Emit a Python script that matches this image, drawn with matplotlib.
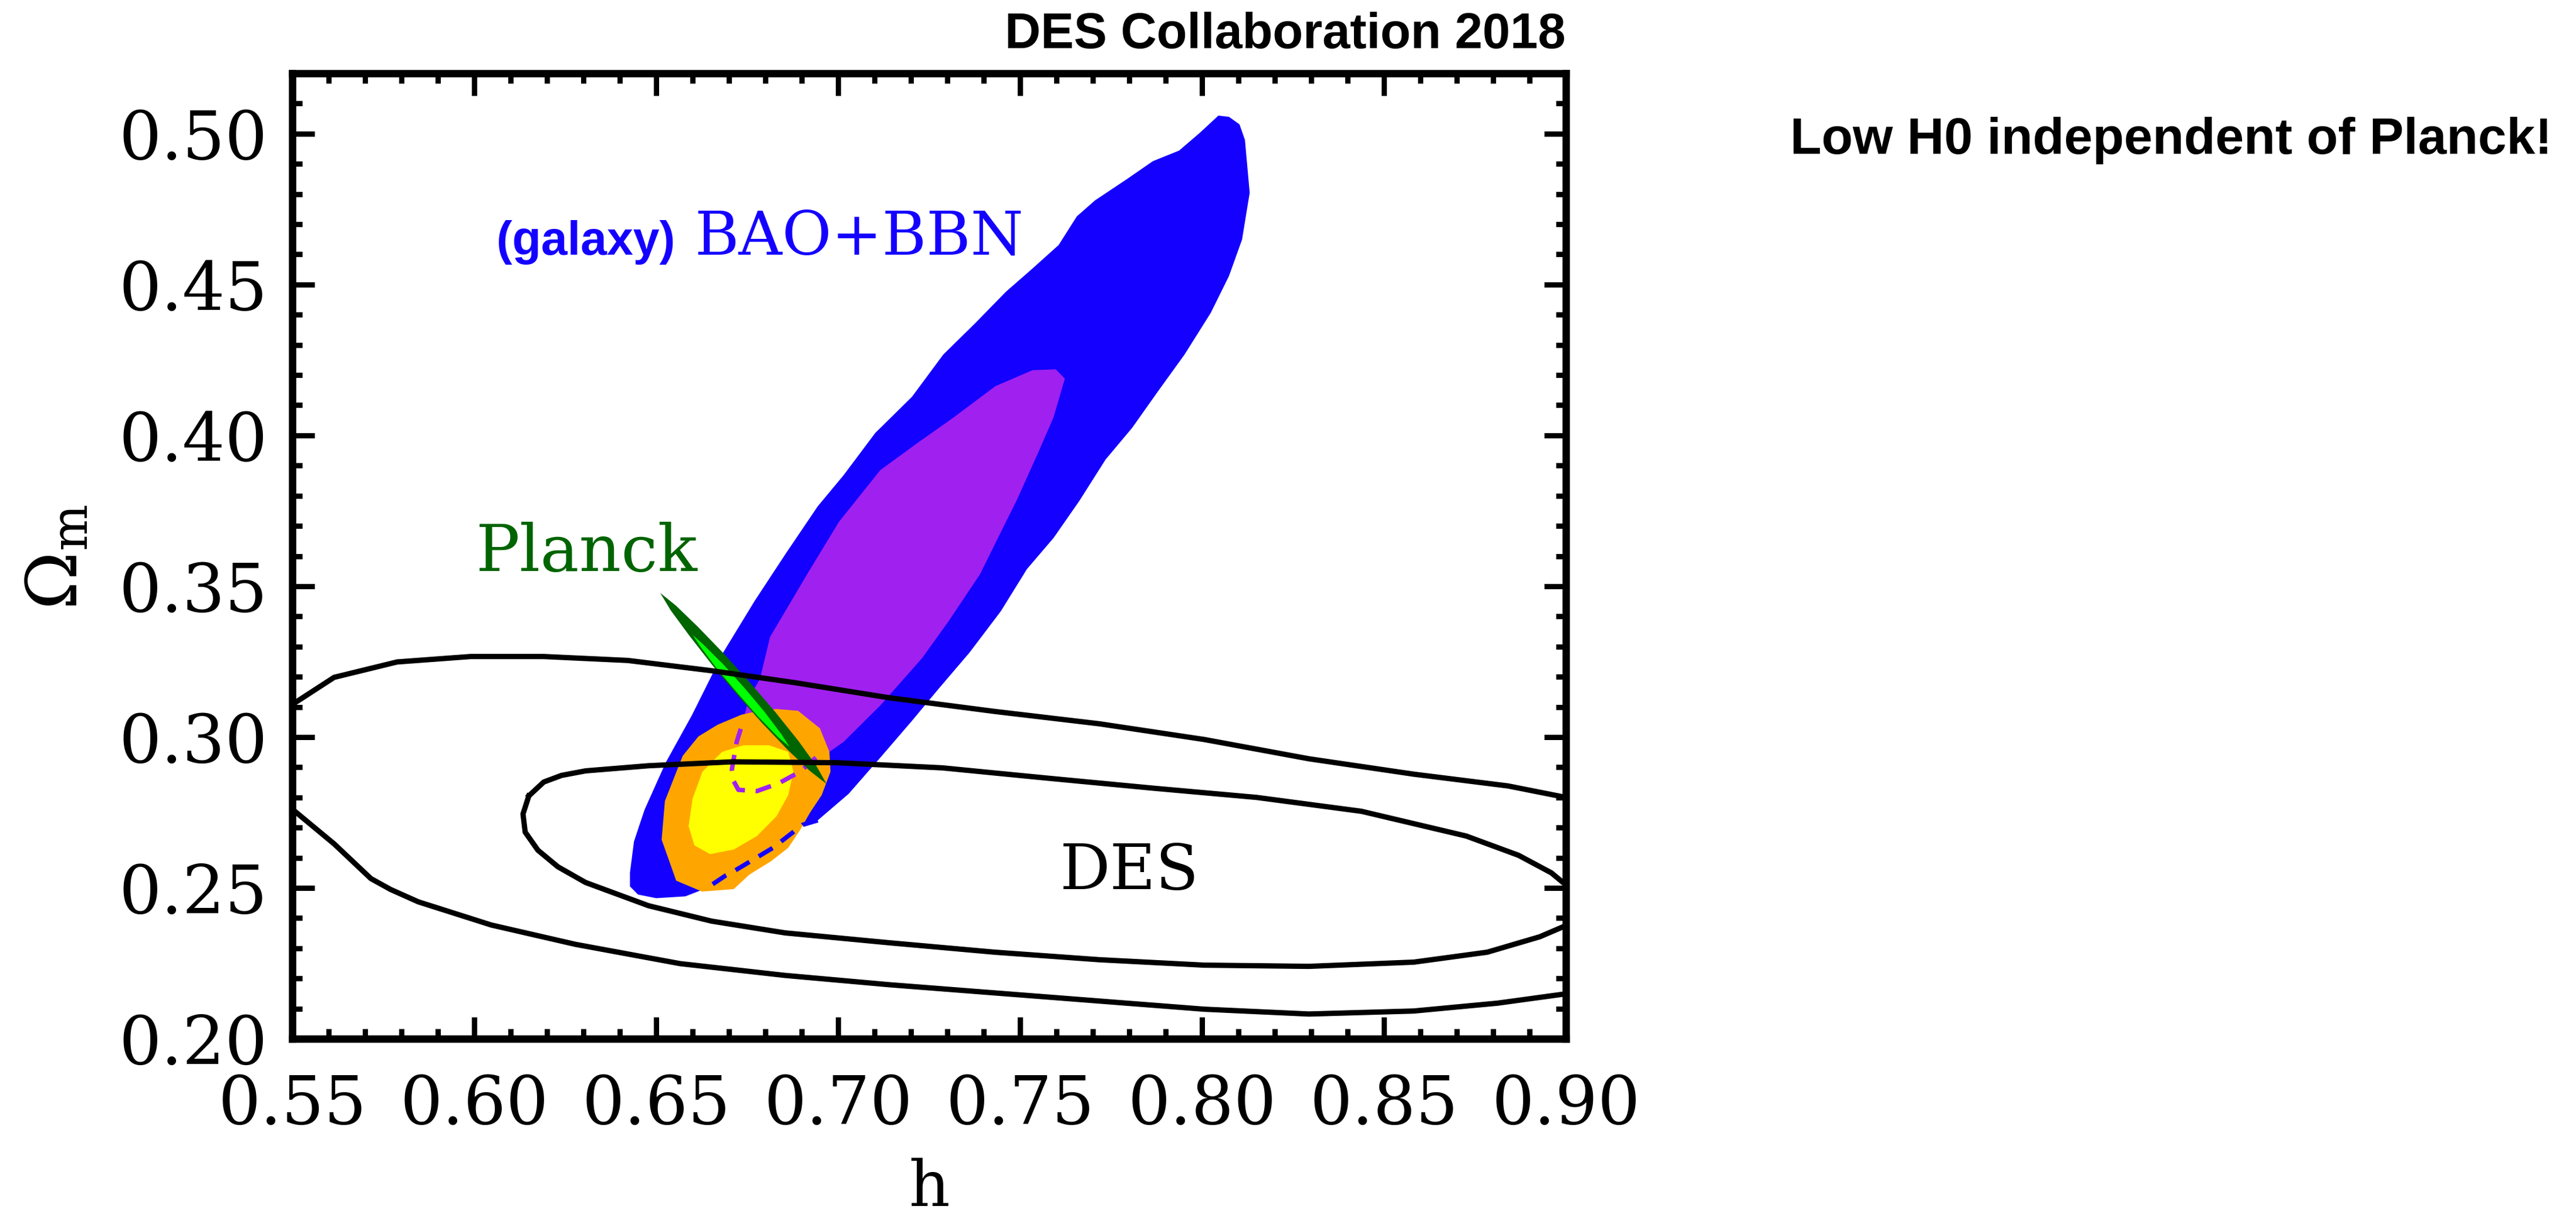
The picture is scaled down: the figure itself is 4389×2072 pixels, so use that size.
import matplotlib
matplotlib.use("Agg")
import matplotlib.pyplot as plt
from matplotlib.ticker import MultipleLocator

plt.rcParams['font.family'] = ['DejaVu Serif']
plt.rcParams['mathtext.fontset'] = 'dejavuserif'

# ---- contour outlines (h, Omega_m) ----
# galaxy BAO+BBN, 95% region
bao95_h = [0.6428, 0.6428, 0.6439, 0.6468, 0.6526, 0.6598, 0.6684, 0.6771, 0.6856, 0.6944,
           0.7015, 0.7102, 0.7203, 0.7289, 0.7376, 0.7461, 0.7534, 0.7606, 0.7656, 0.7706,
           0.7793, 0.7865, 0.7937, 0.7995, 0.8045, 0.8074, 0.8103, 0.8118, 0.8131, 0.8110,
           0.8074, 0.8024, 0.7952, 0.7879, 0.7808, 0.7735, 0.7663, 0.7592, 0.7519, 0.7447,
           0.7361, 0.7274, 0.7203, 0.7116, 0.7029, 0.6944, 0.6902, 0.6821, 0.6713, 0.6692,
           0.6640, 0.6580, 0.6500, 0.6450]
bao95_om = [0.2505, 0.2551, 0.2654, 0.2759, 0.2915, 0.3072, 0.3280, 0.3452, 0.3608, 0.3765,
            0.3868, 0.4008, 0.4128, 0.4268, 0.4371, 0.4476, 0.4553, 0.4631, 0.4726, 0.4779,
            0.4849, 0.4909, 0.4944, 0.5004, 0.5060, 0.5056, 0.5031, 0.4979, 0.4804, 0.4649,
            0.4528, 0.4406, 0.4268, 0.4146, 0.4025, 0.3920, 0.3783, 0.3660, 0.3557, 0.3417,
            0.3280, 0.3157, 0.3054, 0.2932, 0.2812, 0.2724, 0.2709, 0.2633, 0.2555, 0.2542,
            0.2500, 0.2472, 0.2466, 0.2478]
# part of the 95% edge that lies under the combined region (dashed)
bao95_dash_h = [0.6944, 0.6902, 0.6821, 0.6713, 0.6692, 0.6640]
bao95_dash_om = [0.2724, 0.2709, 0.2633, 0.2555, 0.2542, 0.2500]

# galaxy BAO+BBN, 68% region
bao68_h = [0.6785, 0.6813, 0.6915, 0.7002, 0.7116, 0.7216, 0.7318, 0.7432, 0.7534, 0.7598,
           0.7623, 0.7592, 0.7548, 0.7490, 0.7461, 0.7390, 0.7303, 0.7231, 0.7116, 0.7015,
           0.6976, 0.6939, 0.6895, 0.6837, 0.6777, 0.6726, 0.6713, 0.6708, 0.6721, 0.6737,
           0.6755]
bao68_om = [0.3192, 0.3332, 0.3540, 0.3713, 0.3885, 0.3973, 0.4060, 0.4163, 0.4216, 0.4219,
            0.4188, 0.4060, 0.3938, 0.3783, 0.3713, 0.3540, 0.3383, 0.3262, 0.3105, 0.2984,
            0.2951, 0.2932, 0.2885, 0.2847, 0.2821, 0.2825, 0.2854, 0.2893, 0.2983, 0.3045,
            0.3130]
bao68_dash_h = [0.6939, 0.6895, 0.6837, 0.6777, 0.6726, 0.6713, 0.6708, 0.6721, 0.6737]
bao68_dash_om = [0.2932, 0.2885, 0.2847, 0.2821, 0.2825, 0.2854, 0.2893, 0.2983, 0.3045]

# combined, 95% and 68%
comb95_h = [0.6789, 0.6831, 0.6890, 0.6950, 0.6976, 0.6979, 0.6955, 0.6923, 0.6895, 0.6863,
            0.6815, 0.6756, 0.6713, 0.6626, 0.6555, 0.6515, 0.6524, 0.6552, 0.6573, 0.6616,
            0.6669, 0.6734]
comb95_om = [0.3089, 0.3093, 0.3087, 0.3029, 0.2951, 0.2885, 0.2808, 0.2750, 0.2691, 0.2633,
             0.2588, 0.2544, 0.2496, 0.2488, 0.2524, 0.2660, 0.2788, 0.2874, 0.2938, 0.3002,
             0.3041, 0.3074]
comb68_h = [0.6681, 0.6740, 0.6810, 0.6863, 0.6877, 0.6863, 0.6831, 0.6777, 0.6713, 0.6648,
            0.6605, 0.6589, 0.6600, 0.6627]
comb68_om = [0.2951, 0.2973, 0.2973, 0.2951, 0.2885, 0.2808, 0.2738, 0.2672, 0.2627, 0.2612,
             0.2641, 0.2705, 0.2796, 0.2885]

# Planck, 95% and 68%
planck95_h = [0.6511, 0.6555, 0.6615, 0.6688, 0.6758, 0.6826, 0.6891, 0.6940, 0.6968,
              0.6923, 0.6862, 0.6790, 0.6722, 0.6654, 0.6590, 0.6540]
planck95_om = [0.3478, 0.3435, 0.3365, 0.3274, 0.3180, 0.3085, 0.2987, 0.2905, 0.2845,
               0.2887, 0.2957, 0.3048, 0.3143, 0.3239, 0.3338, 0.3420]
planck68_h = [0.6592, 0.6631, 0.6686, 0.6744, 0.6799, 0.6846, 0.6874,
              0.6834, 0.6780, 0.6723, 0.6667, 0.6621]
planck68_om = [0.3350, 0.3308, 0.3242, 0.3164, 0.3085, 0.3010, 0.2957,
               0.2998, 0.3065, 0.3143, 0.3223, 0.3297]

# DES, 95% and 68%
des95_h = [0.545, 0.550, 0.5615, 0.5788, 0.5990, 0.6191, 0.6422, 0.6652, 0.6883, 0.7142,
           0.7430, 0.7718, 0.8006, 0.8294, 0.8582, 0.8841, 0.900, 0.910,
           0.910, 0.900, 0.8812, 0.8582, 0.8294, 0.8006, 0.7718, 0.7430, 0.7142, 0.6854,
           0.6566, 0.6278, 0.6047, 0.5846, 0.5770, 0.5716, 0.5615, 0.550, 0.545, 0.545]
des95_om = [0.302, 0.3108, 0.3198, 0.3249, 0.3267, 0.3267, 0.3254, 0.3220, 0.3180, 0.3130,
            0.3085, 0.3044, 0.2992, 0.2928, 0.2877, 0.2838, 0.2800, 0.2770,
            0.2180, 0.2149, 0.2118, 0.2092, 0.2082, 0.2098, 0.2125, 0.2152, 0.2179, 0.2210,
            0.2249, 0.2313, 0.2377, 0.2454, 0.2495, 0.2531, 0.2646, 0.2761, 0.284, 0.302]
des68_h = [0.6150, 0.6191, 0.6240, 0.6306, 0.6479, 0.6710, 0.6998, 0.7286, 0.7574, 0.7862,
           0.8150, 0.8438, 0.8726, 0.8870, 0.8960, 0.9050, 0.9050, 0.8990, 0.8928, 0.8784,
           0.8582, 0.8294, 0.8006, 0.7718, 0.7430, 0.7142, 0.6854, 0.6652, 0.6479, 0.6306,
           0.6230, 0.6175, 0.6140, 0.6134, 0.6150]
des68_om = [0.2805, 0.2851, 0.2873, 0.2888, 0.2905, 0.2918, 0.2915, 0.2898, 0.2864, 0.2831,
            0.2800, 0.2754, 0.2672, 0.2608, 0.2550, 0.2460, 0.2400, 0.2370, 0.2338, 0.2287,
            0.2254, 0.2240, 0.2244, 0.2262, 0.2287, 0.2318, 0.2351, 0.2390, 0.2441, 0.2518,
            0.2570, 0.2625, 0.2685, 0.2745, 0.2805]

xticks = [0.55, 0.60, 0.65, 0.70, 0.75, 0.80, 0.85, 0.90]
yticks = [0.20, 0.25, 0.30, 0.35, 0.40, 0.45, 0.50]

W, H = 4389, 2072
fig = plt.figure(figsize=(W / 100, H / 100), dpi=100)
ax = fig.add_axes([498 / W, 1 - 1770 / H, 2170 / W, 1645 / H])

ax.fill(bao95_h, bao95_om, color='#1400ff', lw=0, zorder=1)
ax.fill(bao68_h, bao68_om, color='#a020f0', lw=0, zorder=2)
ax.fill(comb95_h, comb95_om, color='#ffa500', lw=0, zorder=3)
ax.fill(comb68_h, comb68_om, color='#ffff00', lw=0, zorder=4)
ax.plot(bao68_dash_h, bao68_dash_om, color='#a020f0', lw=5.5, dashes=(3.6, 2.4), zorder=5)
ax.plot(bao95_dash_h, bao95_dash_om, color='#1400ff', lw=5.5, dashes=(3.6, 2.4), zorder=5)
ax.fill(planck95_h, planck95_om, color='#006400', lw=0, zorder=6)
ax.fill(planck68_h, planck68_om, facecolor='#00ff00', edgecolor='#006400', lw=1.5, zorder=7)
ax.plot(des95_h, des95_om, color='black', lw=6.5, solid_joinstyle='round', zorder=8)
ax.plot(des68_h, des68_om, color='black', lw=6.5, solid_joinstyle='round', zorder=8)

ax.set_xlim(0.55, 0.90)
ax.set_ylim(0.20, 0.52)
ax.set_xticks(xticks)
ax.set_yticks(yticks)
ax.set_xticklabels(['%.2f' % v for v in xticks])
ax.set_yticklabels(['%.2f' % v for v in yticks])
ax.xaxis.set_minor_locator(MultipleLocator(0.01))
ax.yaxis.set_minor_locator(MultipleLocator(0.01))
ax.tick_params(which='both', direction='in', top=True, right=True, width=6.5, color='black')
ax.tick_params(which='major', length=27, labelsize=82)
ax.tick_params(which='minor', length=12)
ax.tick_params(axis='x', which='major', pad=42)
ax.tick_params(axis='y', which='major', pad=30)
for sp in ax.spines.values():
    sp.set_linewidth(9)
    sp.set_zorder(10)

# labels inside the panel
ax.text(0.6061, 0.4598, '(galaxy)', color='#1400ff', fontsize=58, fontweight='bold',
        family=['Liberation Sans', 'DejaVu Sans'], ha='left', va='baseline')
ax.text(0.6606, 0.4598, 'BAO+BBN', color='#1400ff', fontsize=74, ha='left', va='baseline')
ax.text(0.6005, 0.3551, 'Planck', color='#006400', fontsize=80, ha='left', va='baseline')
ax.text(0.7608, 0.2497, 'DES', color='black', fontsize=77, ha='left', va='baseline')

# axis titles
fig.text(98 / W, 1 - 949 / H, r'$\Omega_{\rm m}$', rotation=90, fontsize=86,
         ha='center', va='center')
fig.text(1583 / W, 1 - 2055 / H, 'h', fontsize=78, ha='center', va='baseline')

# headers
fig.text(2668 / W, 1 - 82 / H, 'DES Collaboration 2018', fontsize=61, fontweight='bold',
         family=['Liberation Sans', 'DejaVu Sans'], ha='right', va='baseline')
fig.text(3050 / W, 1 - 262 / H, 'Low H0 independent of Planck!', fontsize=63,
         fontweight='bold', family=['Liberation Sans', 'DejaVu Sans'], ha='left', va='baseline')

fig.savefig('out.png', dpi=100)
